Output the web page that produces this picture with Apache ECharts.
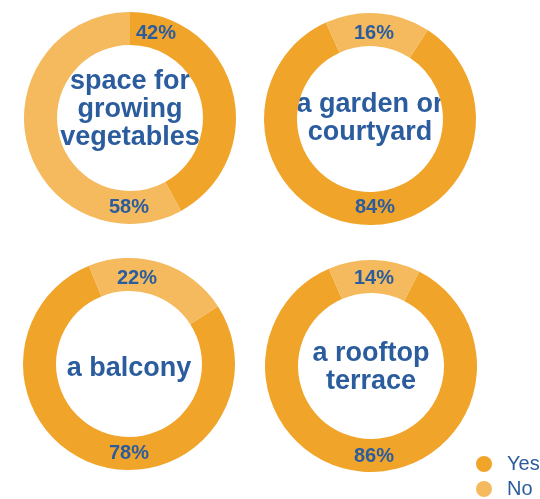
<!DOCTYPE html>
<html>
<head>
<meta charset="utf-8">
<script src="https://cdn.jsdelivr.net/npm/echarts@6/dist/echarts.min.js"></script>
<style>
  html, body { margin: 0; padding: 0; background: #ffffff; }
  #chart { width: 540px; height: 499px; }
</style>
</head>
<body>
<div id="chart"></div>
<script>
// Share of homes with each kind of outdoor space
const categories = ['Yes', 'No'];
const titles = [
  'space for\ngrowing\nvegetables',
  'a garden or\ncourtyard',
  'a balcony',
  'a rooftop\nterrace'
];
const yesValues = [42, 84, 78, 86];
const noValues  = [58, 16, 22, 14];

// Layout of the four rings
const centers = [[130, 118], [370, 119], [129, 364], [371, 366]];
const startAngles = [90, 57, 33, 63];
// label offsets from ring centre: [Yes, No]
const labelOffsets = [
  [[26, -85], [-1, 89]],
  [[5, 88], [4, -86]],
  [[0, 89], [8, -86]],
  [[3, 90], [3, -88]]
];
const titleOffsetY = [-8, 0, 5, 2];

const BLUE = '#2B5C9E';
const COLORS = ['#F1A42A', '#F4BA5D'];
const FONT = '"Liberation Sans", Arial, sans-serif';

const chart = echarts.init(document.getElementById('chart'));

const series = centers.map((c, i) => ({
  type: 'pie',
  center: c,
  radius: [73, 106],
  startAngle: startAngles[i],
  clockwise: true,
  silent: true,
  avoidLabelOverlap: false,
  data: categories.map((name, j) => ({
    name,
    value: j === 0 ? yesValues[i] : noValues[i],
    itemStyle: { color: COLORS[j] }
  })),
  label: {
    show: true,
    formatter: '{c}%',
    color: BLUE,
    fontSize: 20,
    fontWeight: 'bold',
    fontFamily: FONT
  },
  labelLine: { show: false },
  labelLayout: (p) => {
    const off = labelOffsets[i][p.dataIndex];
    return { x: c[0] + off[0], y: c[1] + off[1], align: 'center', verticalAlign: 'middle' };
  }
}));

const graphic = centers.map((c, i) => ({
  type: 'text',
  x: c[0],
  y: c[1] + titleOffsetY[i],
  style: {
    text: titles[i],
    fill: BLUE,
    font: 'bold 27px ' + FONT,
    lineHeight: 28,
    align: 'center',
    verticalAlign: 'middle'
  }
}));

chart.setOption({
  animation: false,
  color: COLORS,
  legend: {
    data: categories,
    orient: 'vertical',
    left: 476,
    top: 454,
    height: 60,
    padding: 0,
    icon: 'circle',
    itemWidth: 16,
    itemHeight: 16,
    itemGap: 5,
    textStyle: {
      color: BLUE,
      fontSize: 20,
      lineHeight: 20,
      fontFamily: FONT,
      padding: [0, 0, 0, 10]
    }
  },
  graphic,
  series
});
</script>
</body>
</html>
